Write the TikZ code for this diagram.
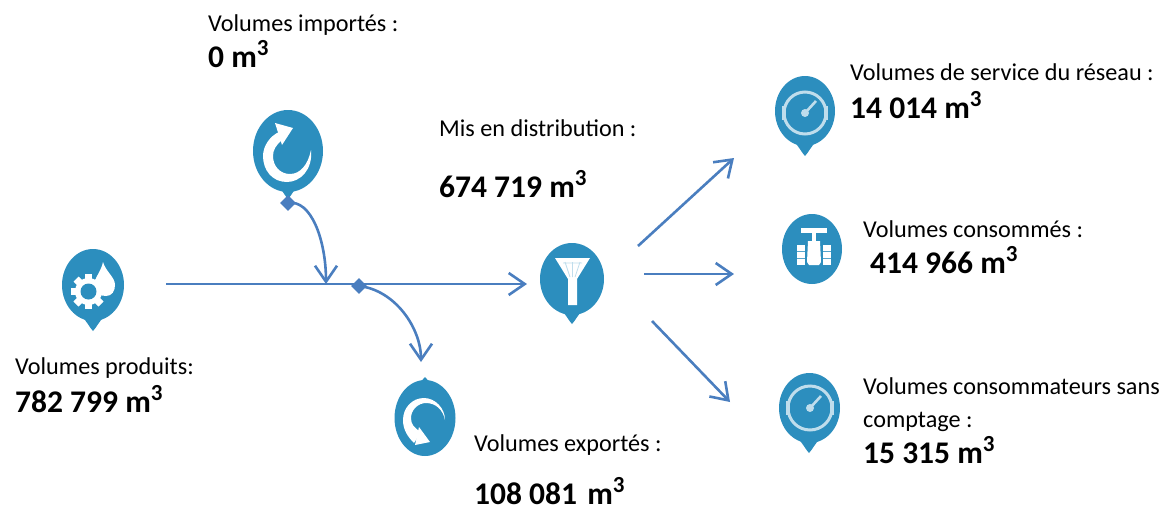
\documentclass[tikz,border=0pt]{standalone}
\usepackage{fontspec}
\setmainfont{Carlito}
\usetikzlibrary{arrows.meta,shapes.geometric}
\definecolor{pinblue}{HTML}{2C8EBE}
\definecolor{linkblue}{HTML}{4A7EBF}
\definecolor{glow}{HTML}{BFDDEC}
\tikzset{
  pinbody/.style={ellipse,fill=pinblue,inner sep=0pt},
  lbl/.style={anchor=base west,inner sep=0pt,font=\fontsize{24.2}{28}\selectfont},
  val/.style={anchor=base west,inner sep=0pt,font=\fontsize{31.5}{36}\selectfont\bfseries},
  link/.style={draw=linkblue,line width=2.6pt,-{Straight Barb[length=16pt,width=22pt,line width=2.6pt]}},
  joint/.style={diamond,fill=linkblue,inner sep=0pt,minimum size=16pt}
}
\newcommand{\cubed}{\raisebox{.36em}{\fontsize{23}{26}\selectfont\bfseries 3}}
\newcommand{\gaugeglyph}[3]{%
  \begin{scope}[shift={(#1,#2)}]
    \draw[glow,line width=3pt] (0,0) circle (#3);
    \draw[glow,line width=4.5pt] (#3,-7) -- (#3,7);
    \draw[glow,line width=4.5pt] (-#3,-7) -- (-#3,7);
    \draw[glow,line width=2.6pt] (0,0) -- (11,-12);
    \fill[glow] (0,0) circle (4);
  \end{scope}}
\newcommand{\pintip}[2]{\fill[pinblue] (#1-13,#2-17) .. controls (#1-5,#2-8) and (#1-3,#2-3) .. (#1,#2) .. controls (#1+3,#2-3) and (#1+5,#2-8) .. (#1+13,#2-17) -- cycle;}
\begin{document}
\begin{tikzpicture}[x=1pt,y=-1pt]
\useasboundingbox (0,0) rectangle (1163,507);
% pins
\pintip{288}{199}
\node[pinbody,minimum width=70pt,minimum height=82pt] (import) at (288,151) {};
\pintip{93}{331}
\node[pinbody,minimum width=62pt,minimum height=72pt] (prod) at (93,285) {};
\fill[pinblue] (412,388) .. controls (420,384) and (422,380) .. (425,377) .. controls (428,380) and (430,384) .. (438,388) -- cycle;
\node[pinbody,minimum width=61pt,minimum height=76pt] (export) at (425,418) {};
\pintip{572}{324}
\node[pinbody,minimum width=64pt,minimum height=72pt] (distrib) at (572,279) {};
\pintip{805}{156}
\node[pinbody,minimum width=60pt,minimum height=70pt] (service) at (805,111) {};
\node[pinbody,minimum width=60pt,minimum height=70pt] (conso) at (812,249) {};
\pintip{809}{453}
\node[pinbody,minimum width=61pt,minimum height=70pt] (sans) at (809.5,408) {};
% import glyph
\fill[white] (311,150) .. controls (313,170) and (300,182) .. (287,182) .. controls (272,182) and (263,170) .. (263,156) .. controls (263,146) and (270,136) .. (279,132) -- (282,140) .. controls (276,145) and (273,150) .. (273,156) .. controls (273,166) and (280,174) .. (290,174) .. controls (300,174) and (308,165) .. (311,150) -- cycle;
\fill[white] (275,123) -- (293,128) -- (282,145) -- cycle;
% export glyph
\fill[white] (445,420) .. controls (445,408) and (435,398) .. (424,398) .. controls (412,398) and (403,408) .. (403,420) .. controls (403,430) and (408,437) .. (414,443) -- (421,432) .. controls (414,428) and (411,424) .. (411,418) .. controls (411,410) and (418,403) .. (426,403) .. controls (436,403) and (443,410) .. (445,420) -- cycle;
\fill[white] (415,445) -- (430,442) -- (419,427) -- cycle;
% production glyph
\fill[white] (103,262) .. controls (101,272) and (94,278) .. (94,286) .. controls (94,293) and (100,296) .. (106,296) .. controls (112,296) and (115,291) .. (115,285) .. controls (115,277) and (106,272) .. (103,262) -- cycle;
\foreach \a in {0,45,...,315}{
  \fill[white,rotate around={\a:(88.5,291.5)}] (85,274) rectangle (92,309);
}
\fill[white] (88.5,291.5) circle (13.5);
\fill[pinblue] (88.5,291.5) circle (8);
% funnel glyph
\fill[white] (555,258) -- (590,258) -- (577,279) -- (577,305) -- (568,305) -- (568,279) -- cycle;
\draw[pinblue!30!white,line width=.8pt] (565,262) -- (570,277) (572.5,262) -- (572.5,277) (580,262) -- (575,277) (563,263) -- (582,263);
% gauges
\gaugeglyph{805}{113}{21}
\gaugeglyph{810}{408}{22}
% valve glyph
\fill[white] (801,228) rectangle (827,233);
\fill[white] (812,233) rectangle (816,242);
\fill[white] (808,241) -- (820,241) -- (821,262) -- (819,265) -- (809,265) -- (807,262) -- cycle;
\fill[white] (797,245) rectangle (805,265);
\fill[white] (823,245) rectangle (831,265);
\draw[pinblue!80!white,line width=1pt] (797,251) -- (805,251) (797,258) -- (805,258) (823,251) -- (831,251) (823,258) -- (831,258);
% connector ends
\coordinate (mainstart) at (166,284);
\coordinate (mainend) at (527,284);
\coordinate (importend) at (326,284);
\coordinate (exportend) at (421,362);
\coordinate (dA0) at (638,246);
\coordinate (dA1) at (734,158);
\coordinate (dB0) at (644,274);
\coordinate (dB1) at (734,274);
\coordinate (dC0) at (652,321);
\coordinate (dC1) at (730,402);
% connectors
\draw[link] (mainstart) -- (mainend);
\node[joint] (jimport) at (288,203) {};
\node[joint] (jexport) at (359,286) {};
\draw[link] (jimport.center) .. controls (311,199) and (326,240) .. (importend);
\draw[link] (jexport.center) .. controls (395,290) and (421,328) .. (exportend);
\draw[link] (dA0) -- (dA1);
\draw[link] (dB0) -- (dB1);
\draw[link] (dC0) -- (dC1);
% texts
\node[lbl] (t1) at (208,31) {Volumes importés :};
\node[val] (v1) at (208,67) {0 m\cubed};
\node[lbl] (t2) at (439,136) {Mis en distribution :};
\node[val] (v2) at (439,197) {674 719 m\cubed};
\node[lbl] (t3) at (15,374) {Volumes produits:};
\node[val] (v3) at (15,412) {782 799 m\cubed};
\node[lbl] (t4) at (474,451) {Volumes exportés :};
\node[val] (v4) at (474,504) {108 081\hspace{3pt} m\cubed};
\node[lbl] (t5) at (850,80) {Volumes de service du réseau :};
\node[val] (v5) at (850,118) {14 014 m\cubed};
\node[lbl] (t6) at (863,237) {Volumes consommés :};
\node[val] (v6) at (870,273) {414 966 m\cubed};
\node[lbl] (t7) at (863,394) {Volumes consommateurs sans};
\node[lbl] (t8) at (863,427) {comptage :};
\node[val] (v7) at (863,463) {15 315 m\cubed};
\end{tikzpicture}
\end{document}
